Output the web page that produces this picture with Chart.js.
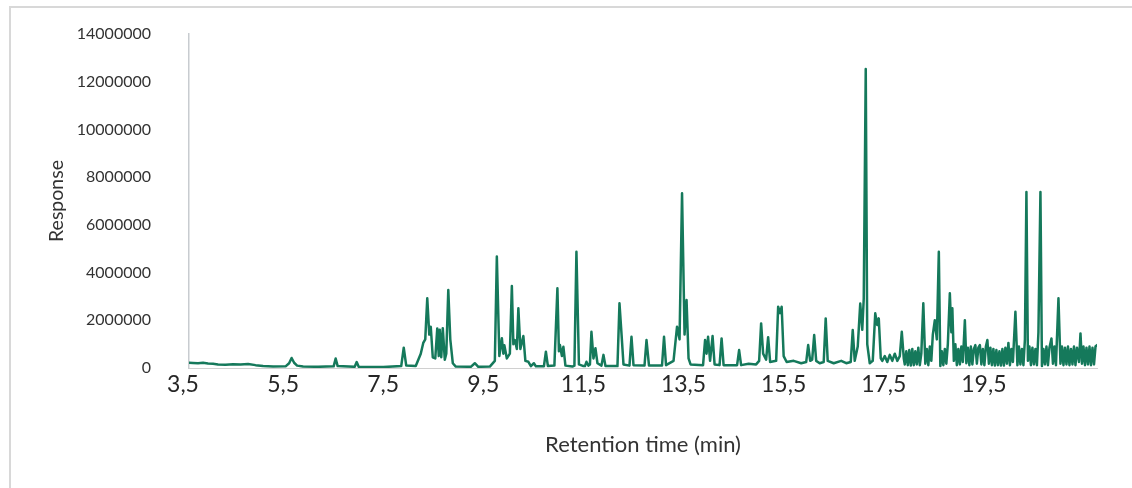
<!DOCTYPE html>
<html>
<head>
<meta charset="utf-8">
<script src="https://cdn.jsdelivr.net/npm/chart.js@4.4.1/dist/chart.umd.min.js"></script>
<style>
  html, body { margin: 0; padding: 0; background: #ffffff; }
  #wrap { width: 1132px; height: 488px; position: relative; }
</style>
</head>
<body>
<div id="wrap"><canvas id="c" width="1132" height="488"></canvas></div>
<script>
// Retention time (min) of each sampled point of the chromatogram
const retentionTime = [
  3.62,3.70,3.80,3.90,4.00,4.10,4.20,4.35,4.50,4.65,4.80,4.95,5.10,5.30,5.55,5.62,5.67,5.72,5.78,5.90,
  6.20,6.51,6.55,6.59,6.93,6.97,7.01,7.50,7.86,7.91,7.96,8.15,8.25,8.30,8.34,8.38,8.42,8.45,8.49,8.54,
  8.58,8.61,8.63,8.66,8.69,8.73,8.76,8.80,8.84,8.89,8.95,9.25,9.33,9.40,9.63,9.73,9.77,9.82,9.87,9.90,
  9.92,9.97,10.03,10.07,10.10,10.13,10.17,10.20,10.24,10.30,10.34,10.40,10.45,10.51,10.55,10.71,10.75,10.79,10.92,10.98,
  11.01,11.03,11.07,11.10,11.14,11.28,11.32,11.36,11.41,11.50,11.53,11.56,11.60,11.63,11.66,11.70,11.74,11.78,11.86,11.90,
  11.94,12.18,12.22,12.26,12.30,12.42,12.46,12.50,12.72,12.76,12.81,13.07,13.11,13.15,13.30,13.37,13.42,13.47,13.52,13.56,
  13.60,13.64,13.89,13.93,13.96,13.99,14.03,14.08,14.12,14.22,14.26,14.30,14.57,14.61,14.65,14.80,14.95,15.01,15.05,15.09,
  15.15,15.19,15.23,15.35,15.39,15.43,15.46,15.50,15.56,15.70,15.85,15.95,15.99,16.03,16.07,16.11,16.15,16.22,16.30,16.34,
  16.38,16.50,16.65,16.75,16.84,16.88,16.92,16.98,17.03,17.07,17.10,17.14,17.17,17.22,17.28,17.33,17.37,17.40,17.44,17.47,17.52,
  17.57,17.62,17.67,17.72,17.77,17.82,17.86,17.90,
  17.92,17.95,17.98,18.01,18.04,18.07,18.10,18.13,18.16,18.19,18.22,18.25,18.29,18.33,18.36,18.39,18.42,18.45,18.48,18.52,
  18.56,18.60,18.63,18.66,18.69,18.72,18.75,18.78,18.82,18.85,18.87,18.90,18.93,18.96,18.99,19.02,19.05,19.08,19.12,19.15,
  19.18,19.21,19.24,19.27,19.30,19.33,19.36,19.39,19.42,19.45,19.48,19.51,19.54,19.57,19.60,19.63,19.66,19.69,19.72,19.75,
  19.78,19.81,19.84,19.87,19.90,19.93,19.96,19.99,20.02,20.05,20.08,20.13,20.17,20.20,20.23,20.26,20.29,20.32,20.35,20.38,
  20.41,20.44,20.47,20.50,20.53,20.56,20.59,20.63,20.66,20.69,20.72,20.75,20.78,20.81,20.85,20.88,20.91,20.94,20.99,21.03,
  21.06,21.09,21.12,21.15,21.18,21.21,21.24,21.27,21.30,21.33,21.36,21.40,21.43,21.46,21.49,21.52,21.55,21.58,21.61,21.64,
  21.67,21.70,21.73,21.76
];

// Detector response at each retention time (counts)
const response = [
  2.2e5,2.1e5,2.0e5,2.2e5,1.9e5,1.8e5,1.5e5,1.4e5,1.6e5,1.5e5,1.7e5,1.2e5,8e4,6e4,7e4,2.0e5,4.2e5,2.2e5,1.0e5,6e4,
  5e4,7e4,4.0e5,8e4,5e4,2.5e5,5e4,4e4,8e4,8.5e5,1.0e5,8e4,6.0e5,1.05e6,1.2e6,2.92e6,1.4e6,1.73e6,4.5e5,4.0e5,
  1.66e6,5.0e5,1.6e6,4.5e5,1.67e6,3.5e5,6.0e5,3.27e6,1.2e6,2.0e5,6e4,5e4,2.0e5,5e4,6e4,3.0e5,4.67e6,5.0e5,1.25e6,6.0e5,
  9.5e5,4.0e5,6.0e5,3.44e6,1.0e6,1.17e6,8.0e5,2.5e6,8.0e5,1.34e6,3.0e5,2.6e5,8e4,2.0e5,7e4,7e4,6.8e5,8e4,1.0e5,3.34e6,
  7.0e5,9.6e5,5.0e5,8.9e5,1.0e5,6e4,1.0e5,4.87e6,1.5e5,8e4,8e4,2.6e5,1.0e5,1.5e5,1.52e6,4.0e5,8.3e5,2.0e5,1.0e5,5.5e5,
  8e4,8e4,2.71e6,1.45e6,1.5e5,1.0e5,1.31e6,1.2e5,1.0e5,1.17e6,1.0e5,1.0e5,1.31e6,1.2e5,3.0e5,1.73e6,1.2e6,7.32e6,1.4e6,2.85e6,
  4.0e5,1.5e5,1.2e5,1.17e6,6.0e5,1.31e6,3.0e5,1.34e6,1.5e5,1.2e5,1.24e6,1.2e5,1.2e5,7.5e5,1.2e5,1.8e5,1.5e5,3.0e5,1.87e6,6.0e5,
  3.5e5,1.29e6,2.5e5,3.0e5,2.57e6,2.3e6,2.57e6,5.0e5,2.5e5,3.0e5,2.0e5,2.5e5,9.6e5,3.0e5,3.5e5,1.38e6,3.0e5,2.0e5,2.5e5,2.08e6,
  3.0e5,2.0e5,3.0e5,2.0e5,2.5e5,1.59e6,3.0e5,9.0e5,2.7e6,1.6e6,2.9e6,1.253e7,1.0e6,2.0e5,3.0e5,2.29e6,1.8e6,2.08e6,4.0e5,3.0e5,5.0e5,
  2.5e5,5.5e5,3.0e5,6.0e5,3.0e5,5.0e5,1.52e6,4.0e5,
  1.5e5,7.0e5,1.2e5,7.5e5,1.0e5,8.0e5,1.2e5,7.0e5,1.5e5,8.5e5,1.2e5,6.0e5,2.71e6,1.8e5,8.0e5,1.2e5,9.0e5,3.0e5,1.4e6,2.0e6,
  1.2e6,4.87e6,8e4,7.0e5,1.2e5,8.0e5,1.8e5,1.0e6,3.13e6,1.5e6,2.5e6,3.0e5,1.0e6,1.2e5,8.0e5,1.5e5,9.0e5,2.5e5,2.0e6,2.0e5,
  8.5e5,1.2e5,9.0e5,1.5e5,8.0e5,9.6e5,1.8e5,8.5e5,9.6e5,1.5e5,8.0e5,1.2e5,9.0e5,1.17e6,1.8e5,8.5e5,1.2e5,8.0e5,1.0e5,7.5e5,
  1.2e5,7.0e5,1.0e5,8.0e5,1.0e5,8.5e5,1.8e5,1.05e6,1.2e5,8.0e5,2.5e5,2.36e6,1.2e5,9.0e5,1.5e5,8.0e5,1.2e5,1.2e6,7.38e6,3.0e5,
  9.0e5,1.2e5,8.5e5,1.5e5,8.0e5,1.2e5,1.5e6,7.38e6,8e4,8.0e5,1.5e5,9.0e5,1.2e5,8.5e5,1.24e6,1.8e5,9.0e5,1.2e5,2.92e6,1.8e5,
  9.0e5,1.2e5,8.5e5,1.5e5,9.0e5,1.2e5,8.0e5,1.5e5,9.0e5,1.2e5,8.5e5,2.5e5,1.45e6,1.8e5,9.0e5,1.2e5,8.5e5,1.5e5,9.0e5,1.2e5,
  8.5e5,1.5e5,9.0e5,9.6e5
];

// Axis tick labels
const xTickValues = [3.5, 5.5, 7.5, 9.5, 11.5, 13.5, 15.5, 17.5, 19.5];
const yTickValues = [0, 2000000, 4000000, 6000000, 8000000, 10000000, 12000000, 14000000];

const xTitle = 'Retention time (min)';
const yTitle = 'Response';

const points = retentionTime.map((t, i) => ({ x: t, y: response[i] }));

const frame = {
  id: 'frame',
  beforeDraw(chart) {
    const ctx = chart.ctx;
    ctx.save();
    ctx.fillStyle = '#ffffff';
    ctx.fillRect(0, 0, chart.width, chart.height);
    ctx.strokeStyle = '#d8d8d8';
    ctx.lineWidth = 2;
    ctx.beginPath();
    ctx.moveTo(10, 488);
    ctx.lineTo(10, 7);
    ctx.lineTo(1132, 7);
    ctx.stroke();
    ctx.restore();
  }
};

new Chart(document.getElementById('c'), {
  type: 'line',
  data: {
    datasets: [{
      data: points,
      borderColor: '#15795b',
      borderWidth: 2.5,
      borderJoinStyle: 'round',
      borderCapStyle: 'round',
      pointRadius: 0,
      tension: 0,
      fill: false
    }]
  },
  options: {
    responsive: false,
    devicePixelRatio: 1,
    animation: false,
    events: [],
    layout: { padding: { left: 43, right: 35, top: 34, bottom: 26 } },
    plugins: { legend: { display: false }, tooltip: { enabled: false } },
    scales: {
      x: {
        type: 'linear',
        min: 3.62,
        max: 21.76,
        afterBuildTicks(scale) { scale.ticks = xTickValues.map(v => ({ value: v })); },
        afterFit(scale) { scale.height = 94; },
        grid: { display: false, drawTicks: false },
        border: { display: true, color: '#d0d0d0', width: 1 },
        ticks: {
          autoSkip: false,
          maxRotation: 0,
          padding: 3,
          color: '#262626',
          font: { family: 'Lato', size: 23 },
          callback: (v) => String(v).replace('.', ',')
        },
        title: {
          display: true,
          text: xTitle,
          color: '#333333',
          font: { family: 'Lato', size: 22 },
          padding: { top: 4, bottom: 4 }
        }
      },
      y: {
        min: 0,
        max: 14000000,
        afterBuildTicks(scale) { scale.ticks = yTickValues.map(v => ({ value: v })); },
        afterFit(scale) { scale.width = 146; },
        grid: { display: false, drawTicks: true, tickLength: 36 },
        border: { display: true, color: '#c8ccd0', width: 1.5 },
        ticks: {
          padding: 2,
          color: '#333333',
          font: { family: 'Lato', size: 16 },
          callback: (v) => String(v)
        },
        title: {
          display: true,
          text: yTitle,
          color: '#333333',
          font: { family: 'Lato', size: 19.5 },
          padding: { top: 2, bottom: 4 }
        }
      }
    }
  },
  plugins: [frame]
});
</script>
</body>
</html>
